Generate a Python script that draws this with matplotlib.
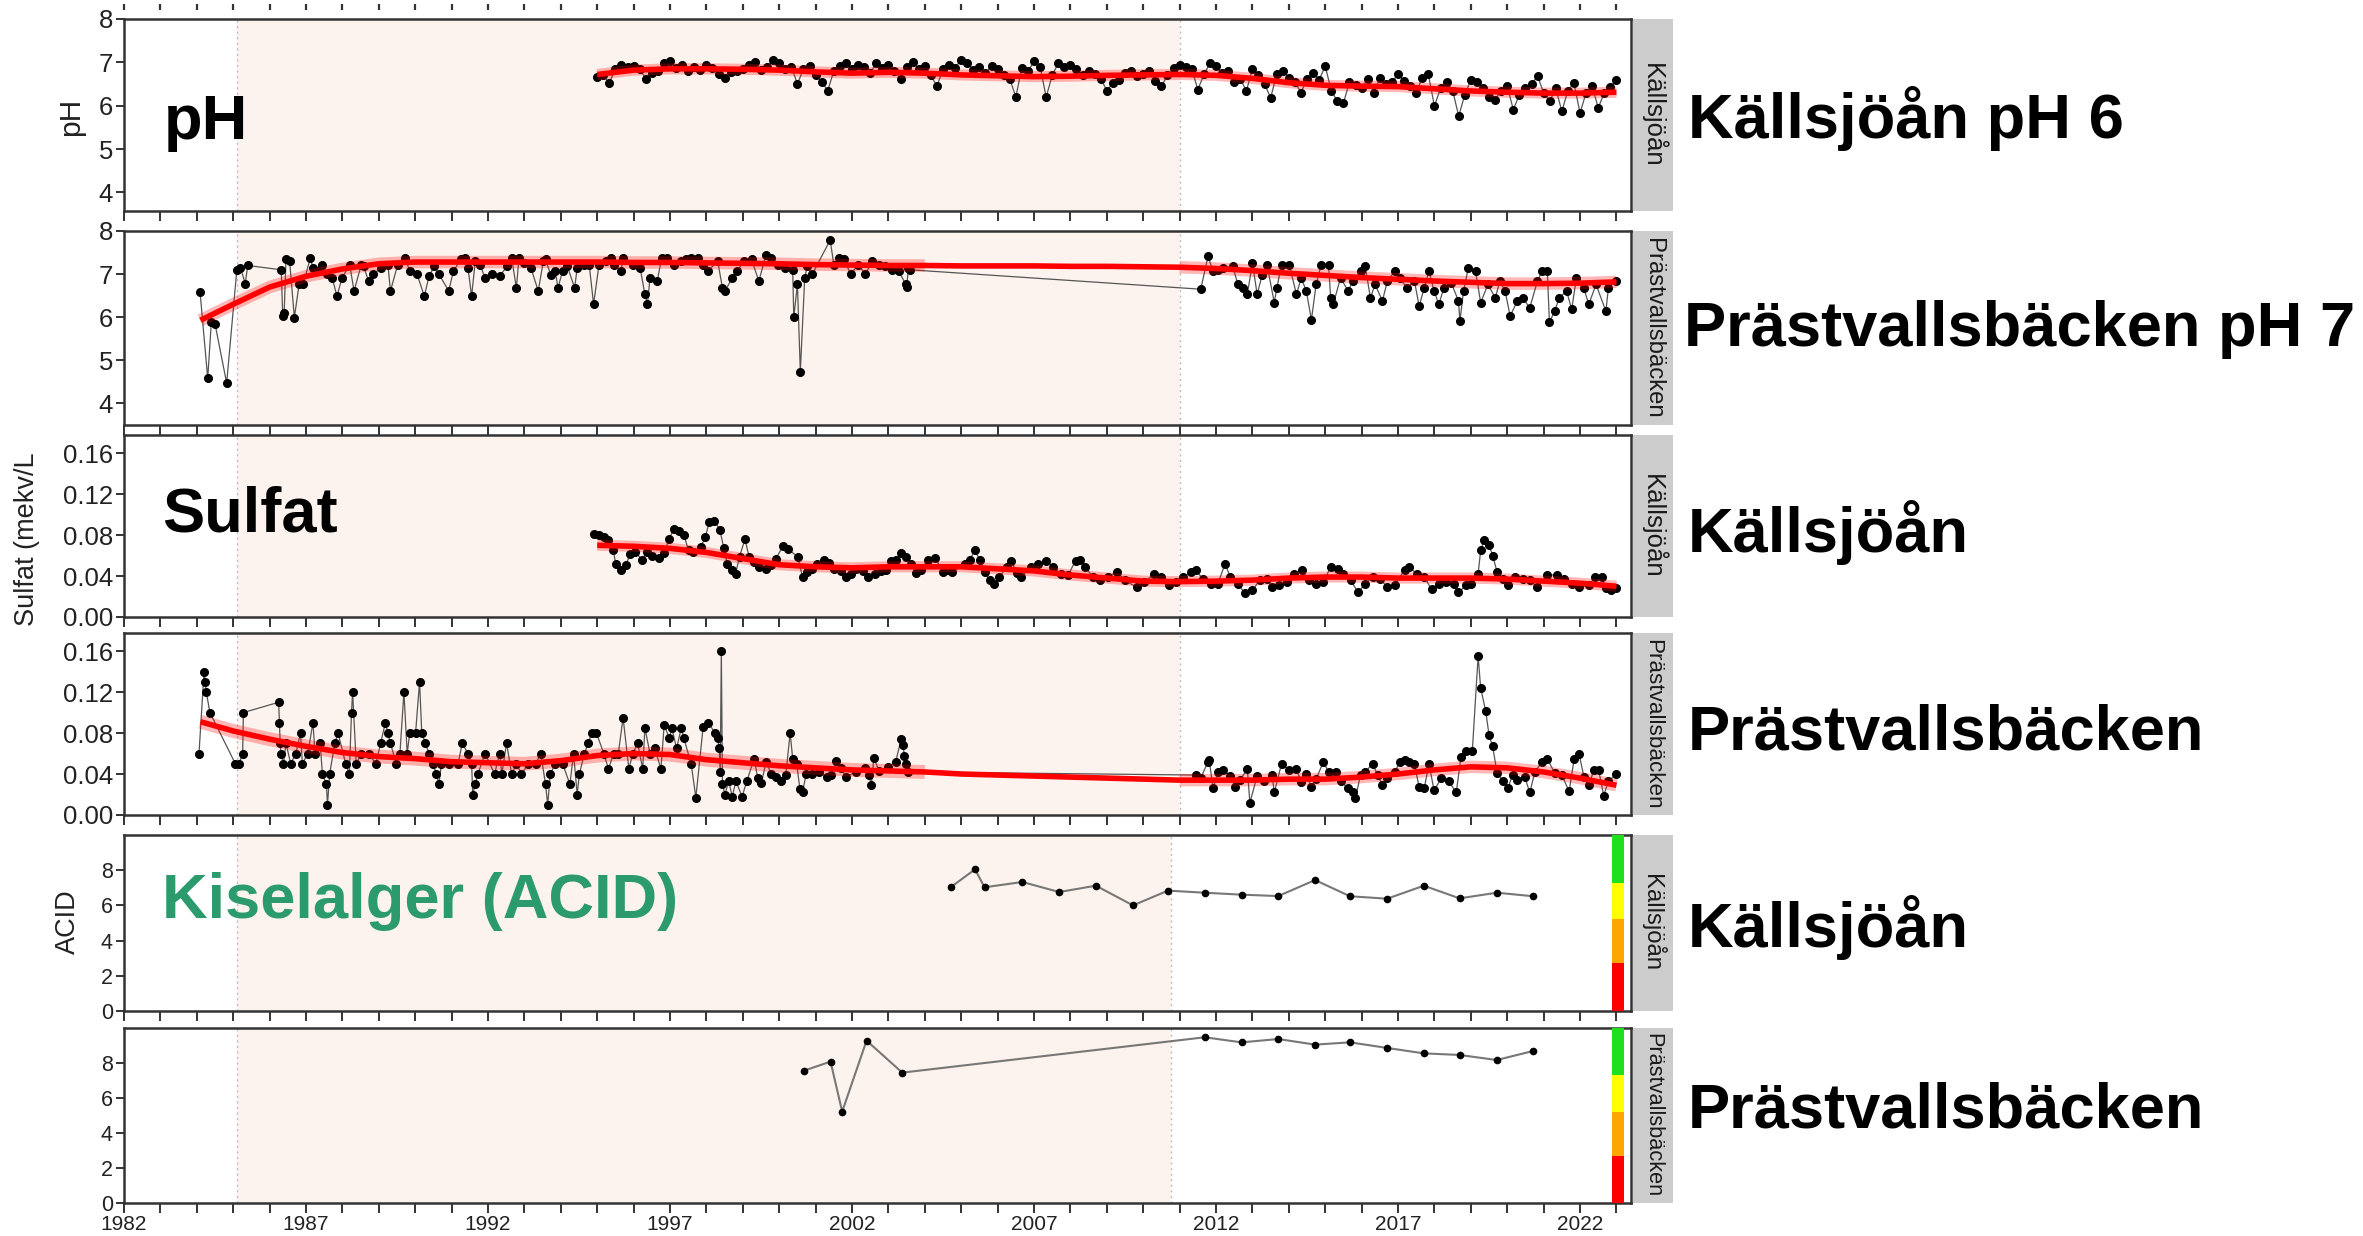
import numpy as np
import matplotlib
matplotlib.use("Agg")
import matplotlib.pyplot as plt
from matplotlib.ticker import FixedLocator, FuncFormatter

plt.rcParams['font.family'] = ['Liberation Sans', 'DejaVu Sans']

# ---------------- data ----------------
ref_start, ref_end_top, ref_end_bottom = 1985.1, 2011.0, 2010.75

# Panel 1: pH Källsjöån, sampled 6 times a year from 1995.0
ph_kall_start = 1995.0
ph_kall_per_year = 6
ph_kall = [
    6.66, 6.70, 6.52, 6.85, 6.95, 6.90,
    6.92, 6.85, 6.62, 6.75, 6.80, 6.98,
    7.02, 6.88, 6.95, 6.80, 6.90, 6.83,
    6.95, 6.88, 6.72, 6.65, 6.78, 6.80,
    6.85, 6.95, 7.00, 6.82, 6.90, 7.05,
    6.98, 6.85, 6.90, 6.50, 6.85, 6.92,
    6.70, 6.55, 6.35, 6.80, 6.92, 6.98,
    6.85, 6.95, 6.90, 6.75, 6.98, 6.88,
    6.95, 6.80, 6.62, 6.90, 7.00, 6.85,
    6.92, 6.70, 6.45, 6.85, 6.95, 6.88,
    7.06, 6.98, 6.82, 6.90, 6.75, 6.92,
    6.85, 6.70, 6.62, 6.20, 6.88, 6.80,
    7.02, 6.90, 6.20, 6.70, 6.98, 6.90,
    6.95, 6.85, 6.70, 6.80, 6.72, 6.62,
    6.35, 6.52, 6.60, 6.75, 6.80, 6.68,
    6.72, 6.80, 6.58, 6.45, 6.70, 6.88,
    6.94, 6.90, 6.85, 6.37, 6.72, 6.98,
    6.92, 6.75, 6.80, 6.55, 6.62, 6.34,
    6.85, 6.70, 6.50, 6.18, 6.72, 6.80,
    6.65, 6.55, 6.30, 6.62, 6.75, 6.60,
    6.91, 6.35, 6.10, 6.06, 6.55, 6.48,
    6.40, 6.62, 6.30, 6.64, 6.50, 6.55,
    6.72, 6.58, 6.45, 6.30, 6.65, 6.72,
    5.99, 6.40, 6.55, 6.35, 5.76, 6.25,
    6.60, 6.55, 6.40, 6.20, 6.14, 6.35,
    6.45, 5.91, 6.25, 6.40, 6.50, 6.68,
    6.30, 6.10, 6.40, 5.87, 6.35, 6.52,
    5.83, 6.30, 6.45, 5.95, 6.30, 6.42,
    6.60,
]
ph_kall_smooth_year = [1995, 1996, 1997, 1998, 1999, 2000, 2001, 2002, 2003, 2004, 2005, 2006, 2007,
                       2008, 2009, 2010, 2011, 2012, 2013, 2014, 2015, 2016, 2017, 2018, 2019, 2020,
                       2021, 2022, 2023]
ph_kall_smooth = [6.72, 6.82, 6.85, 6.85, 6.84, 6.82, 6.78, 6.75, 6.77, 6.75, 6.71, 6.69, 6.67,
                  6.68, 6.70, 6.71, 6.72, 6.70, 6.63, 6.53, 6.47, 6.45, 6.44, 6.39, 6.34, 6.31,
                  6.29, 6.29, 6.31]

# Panel 2: pH Prästvallsbäcken (two sampling periods)
ph_prast_year_a = [
    1984.09, 1984.30, 1984.40, 1984.50, 1984.82, 1985.10, 1985.20, 1985.33, 1985.40, 1986.32,
    1986.36, 1986.40, 1986.45, 1986.55, 1986.68, 1986.81, 1986.92, 1987.12, 1987.19, 1987.32,
    1987.45, 1987.59, 1987.72, 1987.85, 1987.99, 1988.20, 1988.32, 1988.52, 1988.58, 1988.72,
    1988.85, 1989.05, 1989.25, 1989.32, 1989.52, 1989.72, 1989.85, 1990.05, 1990.25, 1990.38,
    1990.52, 1990.65, 1990.92, 1991.05, 1991.25, 1991.38, 1991.45, 1991.55, 1991.65, 1991.78,
    1991.92, 1992.12, 1992.32, 1992.52, 1992.65, 1992.78, 1992.85, 1992.98, 1993.18, 1993.38,
    1993.52, 1993.58, 1993.72, 1993.85, 1993.92, 1994.05, 1994.18, 1994.38, 1994.45, 1994.65,
    1994.78, 1994.90, 1995.05, 1995.25, 1995.38, 1995.45, 1995.65, 1995.72, 1995.98, 1996.18,
    1996.31, 1996.38, 1996.45, 1996.65, 1996.77, 1996.91, 1997.11, 1997.31, 1997.44, 1997.58,
    1997.77, 1997.91, 1998.04, 1998.31, 1998.44, 1998.51, 1998.71, 1998.84, 1999.04, 1999.24,
    1999.44, 1999.64, 1999.77, 1999.97, 2000.17, 2000.37, 2000.40, 2000.50, 2000.58, 2000.70,
    2000.77, 2000.91, 2001.40, 2001.50, 2001.64, 2001.77, 2001.97, 2002.17, 2002.37, 2002.55,
    2002.74, 2002.90, 2003.10, 2003.28, 2003.48, 2003.50, 2003.55, 2003.60,
]
ph_prast_a = [
    6.58, 4.58, 5.89, 5.85, 4.47, 7.10, 7.15, 6.78, 7.20, 7.10,
    6.03, 6.10, 7.34, 7.30, 5.99, 6.76, 6.76, 7.38, 7.14, 7.07,
    7.22, 7.00, 6.91, 6.49, 6.91, 7.22, 6.61, 7.22, 7.18, 6.84,
    7.00, 7.14, 7.22, 6.61, 7.22, 7.38, 7.07, 7.00, 6.49, 6.95,
    7.18, 7.00, 6.61, 7.07, 7.34, 7.37, 7.14, 6.49, 7.30, 7.22,
    6.91, 7.00, 6.95, 7.18, 7.37, 6.68, 7.37, 7.26, 7.14, 6.61,
    7.30, 7.34, 6.99, 7.07, 6.68, 7.07, 7.18, 6.68, 7.14, 7.22,
    7.22, 6.30, 7.22, 7.30, 7.37, 7.22, 7.07, 7.38, 7.22, 7.14,
    6.53, 6.30, 6.91, 6.84, 7.38, 7.38, 7.22, 7.30, 7.34, 7.37,
    7.38, 7.22, 7.07, 7.30, 6.68, 6.61, 6.91, 7.07, 7.30, 7.34,
    6.84, 7.45, 7.37, 7.22, 7.14, 7.10, 6.00, 6.76, 4.74, 6.91,
    7.18, 7.00, 7.79, 7.22, 7.38, 7.34, 7.00, 7.22, 7.00, 7.30,
    7.22, 7.18, 7.10, 7.07, 6.76, 6.70, 7.14, 7.10,
]
ph_prast_year_b = [
    2011.58, 2011.78, 2011.92, 2012.05, 2012.19, 2012.46, 2012.60, 2012.73, 2012.86, 2013.00,
    2013.13, 2013.27, 2013.40, 2013.60, 2013.67, 2013.80, 2014.01, 2014.21, 2014.34, 2014.48,
    2014.62, 2014.75, 2014.89, 2015.09, 2015.15, 2015.22, 2015.42, 2015.63, 2015.76, 2015.97,
    2016.10, 2016.24, 2016.37, 2016.57, 2016.71, 2016.91, 2017.05, 2017.25, 2017.45, 2017.58,
    2017.72, 2017.85, 2017.99, 2018.12, 2018.26, 2018.46, 2018.66, 2018.70, 2018.80, 2018.93,
    2019.13, 2019.27, 2019.47, 2019.67, 2019.80, 2019.94, 2020.08, 2020.28, 2020.42, 2020.62,
    2020.83, 2020.96, 2021.10, 2021.16, 2021.30, 2021.43, 2021.63, 2021.77, 2021.90, 2022.10,
    2022.24, 2022.44, 2022.71, 2022.78, 2023.00,
]
ph_prast_b = [
    6.65, 7.41, 7.07, 7.10, 7.14, 7.18, 6.76, 6.68, 6.53, 7.26,
    6.53, 6.99, 7.22, 6.34, 6.68, 7.22, 7.22, 6.53, 6.91, 6.61,
    5.94, 6.76, 7.22, 7.22, 6.45, 6.30, 6.91, 6.61, 6.84, 7.07,
    7.18, 6.45, 6.76, 6.38, 6.84, 7.07, 6.91, 6.68, 6.84, 6.26,
    6.68, 7.07, 6.61, 6.30, 6.68, 6.80, 6.38, 5.91, 6.61, 7.14,
    7.07, 6.34, 6.76, 6.45, 6.84, 6.61, 6.03, 6.38, 6.45, 6.22,
    6.84, 7.07, 7.07, 5.88, 6.14, 6.45, 6.61, 6.18, 6.91, 6.68,
    6.30, 6.76, 6.14, 6.68, 6.84,
]
ph_prast_smooth_year = [1984.1, 1985, 1986, 1987, 1988, 1989, 1990, 1991, 1992, 1993, 1994, 1995,
                        1996, 1997, 1998, 1999, 2000, 2001, 2002, 2003, 2004, 2005, 2006, 2007,
                        2008, 2009, 2010, 2011, 2012, 2013, 2014, 2015, 2016, 2017, 2018, 2019,
                        2020, 2021, 2022, 2023]
ph_prast_smooth = [5.93, 6.30, 6.70, 6.95, 7.12, 7.24, 7.28, 7.28, 7.28, 7.28, 7.28, 7.28,
                   7.27, 7.27, 7.26, 7.25, 7.24, 7.22, 7.21, 7.20, 7.20, 7.19, 7.19, 7.19,
                   7.18, 7.18, 7.17, 7.16, 7.13, 7.08, 7.02, 6.97, 6.92, 6.88, 6.84, 6.81,
                   6.78, 6.78, 6.79, 6.82]

# Panel 3: Sulfat Källsjöån (mekv/L)
so4_kall_year = [
    1994.91, 1995.04, 1995.18, 1995.31, 1995.44, 1995.51, 1995.64, 1995.78, 1995.91, 1996.04,
    1996.24, 1996.38, 1996.51, 1996.71, 1996.84, 1996.97, 1997.11, 1997.24, 1997.38, 1997.51,
    1997.64, 1997.84, 1997.97, 1998.08, 1998.22, 1998.37, 1998.48, 1998.57, 1998.71, 1998.80,
    1998.91, 1999.06, 1999.17, 1999.31, 1999.44, 1999.64, 1999.77, 1999.91, 2000.10, 2000.24,
    2000.51, 2000.64, 2000.77, 2000.91, 2001.04, 2001.24, 2001.37, 2001.51, 2001.71, 2001.84,
    2001.97, 2002.11, 2002.31, 2002.44, 2002.64, 2002.80, 2002.94, 2003.08, 2003.21, 2003.35,
    2003.48, 2003.62, 2003.75, 2003.89, 2004.09, 2004.29, 2004.49, 2004.63, 2004.76, 2005.10,
    2005.24, 2005.37, 2005.51, 2005.64, 2005.78, 2005.91, 2006.05, 2006.25, 2006.38, 2006.52,
    2006.65, 2006.92, 2007.12, 2007.33, 2007.53, 2007.73, 2007.94, 2008.14, 2008.27, 2008.41,
    2008.61, 2008.81, 2009.02, 2009.28, 2009.49, 2009.82, 2010.03, 2010.30, 2010.50, 2010.70,
    2010.90, 2011.10, 2011.31, 2011.44, 2011.64, 2011.85, 2012.05, 2012.25, 2012.39, 2012.59,
    2012.80, 2013.00, 2013.20, 2013.40, 2013.54, 2013.74, 2013.94, 2014.14, 2014.35, 2014.55,
    2014.75, 2014.95, 2015.15, 2015.36, 2015.49, 2015.70, 2015.90, 2016.10, 2016.30, 2016.51,
    2016.71, 2016.91, 2017.18, 2017.31, 2017.51, 2017.72, 2017.92, 2018.12, 2018.33, 2018.53,
    2018.66, 2018.87, 2019.00, 2019.20, 2019.27, 2019.36, 2019.50, 2019.60, 2019.72, 2019.88,
    2020.01, 2020.22, 2020.42, 2020.62, 2020.82, 2021.10, 2021.37, 2021.57, 2021.77, 2021.97,
    2022.24, 2022.42, 2022.59, 2022.71, 2022.85, 2023.00,
]
so4_kall = [
    0.081, 0.080, 0.078, 0.075, 0.065, 0.052, 0.046, 0.051, 0.061, 0.063,
    0.056, 0.063, 0.060, 0.058, 0.062, 0.076, 0.086, 0.084, 0.080, 0.065,
    0.063, 0.068, 0.078, 0.093, 0.094, 0.085, 0.067, 0.052, 0.046, 0.042,
    0.059, 0.076, 0.059, 0.054, 0.049, 0.047, 0.051, 0.057, 0.069, 0.066,
    0.059, 0.039, 0.044, 0.047, 0.052, 0.056, 0.053, 0.047, 0.045, 0.039,
    0.042, 0.047, 0.045, 0.039, 0.042, 0.045, 0.046, 0.055, 0.056, 0.062,
    0.059, 0.052, 0.043, 0.046, 0.056, 0.058, 0.044, 0.046, 0.044, 0.052,
    0.056, 0.065, 0.056, 0.044, 0.036, 0.0325, 0.039, 0.049, 0.055, 0.043,
    0.039, 0.049, 0.052, 0.055, 0.049, 0.042, 0.041, 0.055, 0.056, 0.049,
    0.039, 0.036, 0.039, 0.044, 0.036, 0.029, 0.034, 0.042, 0.039, 0.031,
    0.034, 0.039, 0.044, 0.046, 0.037, 0.0325, 0.0325, 0.052, 0.039, 0.0325,
    0.023, 0.026, 0.036, 0.037, 0.029, 0.031, 0.034, 0.042, 0.046, 0.036,
    0.0325, 0.034, 0.049, 0.047, 0.042, 0.036, 0.024, 0.0325, 0.039, 0.037,
    0.029, 0.031, 0.046, 0.049, 0.042, 0.039, 0.027, 0.0325, 0.034, 0.0325,
    0.024, 0.031, 0.0325, 0.042, 0.065, 0.075, 0.070, 0.060, 0.044, 0.037,
    0.031, 0.039, 0.037, 0.036, 0.029, 0.041, 0.041, 0.037, 0.0325, 0.029,
    0.031, 0.039, 0.039, 0.028, 0.026, 0.028,
]
so4_kall_smooth_year = [1995, 1996, 1997, 1998, 1999, 2000, 2001, 2002, 2003, 2004, 2005, 2006, 2007,
                        2008, 2009, 2010, 2011, 2012, 2013, 2014, 2015, 2016, 2017, 2018, 2019, 2020,
                        2021, 2022, 2023]
so4_kall_smooth = [0.070, 0.069, 0.067, 0.063, 0.057, 0.051, 0.049, 0.048, 0.049, 0.049, 0.049,
                   0.047, 0.045, 0.041, 0.038, 0.035, 0.0345, 0.035, 0.036, 0.038, 0.039, 0.039,
                   0.038, 0.038, 0.038, 0.037, 0.035, 0.033, 0.030]

# Panel 4: Sulfat Prästvallsbäcken (two sampling periods)
so4_prast_year_a = [
    1984.06, 1984.20, 1984.23, 1984.26, 1984.36, 1985.06, 1985.16, 1985.26, 1985.28, 1986.25,
    1986.27, 1986.29, 1986.31, 1986.38, 1986.45, 1986.58, 1986.72, 1986.85, 1986.90, 1987.05,
    1987.19, 1987.25, 1987.39, 1987.45, 1987.56, 1987.59, 1987.65, 1987.79, 1987.88, 1988.09,
    1988.19, 1988.25, 1988.28, 1988.38, 1988.52, 1988.72, 1988.92, 1989.05, 1989.18, 1989.25,
    1989.32, 1989.48, 1989.58, 1989.69, 1989.78, 1989.85, 1990.01, 1990.12, 1990.18, 1990.28,
    1990.38, 1990.49, 1990.58, 1990.65, 1990.72, 1990.92, 1991.18, 1991.29, 1991.45, 1991.55,
    1991.58, 1991.65, 1991.72, 1991.92, 1992.18, 1992.32, 1992.38, 1992.51, 1992.65, 1992.78,
    1992.92, 1993.11, 1993.31, 1993.45, 1993.58, 1993.64, 1993.71, 1993.85, 1994.05, 1994.25,
    1994.35, 1994.45, 1994.51, 1994.65, 1994.75, 1994.85, 1994.98, 1995.18, 1995.31, 1995.45,
    1995.58, 1995.71, 1995.87, 1995.98, 1996.11, 1996.25, 1996.31, 1996.45, 1996.58, 1996.75,
    1996.84, 1996.98, 1997.05, 1997.18, 1997.31, 1997.38, 1997.58, 1997.71, 1997.91, 1998.05,
    1998.24, 1998.31, 1998.35, 1998.38, 1998.41, 1998.44, 1998.51, 1998.61, 1998.71, 1998.81,
    1998.98, 1999.11, 1999.31, 1999.41, 1999.51, 1999.64, 1999.78, 1999.91, 2000.04, 2000.18,
    2000.30, 2000.37, 2000.48, 2000.57, 2000.64, 2000.74, 2000.90, 2001.10, 2001.30, 2001.43,
    2001.57, 2001.70, 2001.83, 2002.10, 2002.37, 2002.47, 2002.53, 2002.60, 2002.74, 2003.00,
    2003.20, 2003.35, 2003.40, 2003.44, 2003.48, 2003.55,
]
so4_prast_a = [
    0.06, 0.14, 0.13, 0.12, 0.10, 0.05, 0.05, 0.06, 0.10, 0.11,
    0.09, 0.07, 0.06, 0.05, 0.07, 0.05, 0.06, 0.08, 0.05, 0.06,
    0.09, 0.06, 0.07, 0.04, 0.03, 0.01, 0.04, 0.07, 0.08, 0.05,
    0.04, 0.10, 0.12, 0.05, 0.06, 0.06, 0.05, 0.07, 0.09, 0.08,
    0.07, 0.05, 0.06, 0.12, 0.06, 0.08, 0.08, 0.13, 0.08, 0.07,
    0.06, 0.05, 0.04, 0.03, 0.05, 0.05, 0.05, 0.07, 0.06, 0.05,
    0.02, 0.03, 0.04, 0.06, 0.04, 0.06, 0.04, 0.07, 0.04, 0.05,
    0.04, 0.05, 0.05, 0.06, 0.03, 0.01, 0.04, 0.05, 0.05, 0.03,
    0.06, 0.02, 0.04, 0.06, 0.07, 0.08, 0.08, 0.06, 0.045, 0.06,
    0.06, 0.095, 0.045, 0.06, 0.07, 0.045, 0.085, 0.06, 0.065, 0.045,
    0.088, 0.075, 0.085, 0.065, 0.085, 0.075, 0.05, 0.017, 0.086, 0.09,
    0.08, 0.075, 0.065, 0.042, 0.16, 0.03, 0.02, 0.033, 0.018, 0.033,
    0.018, 0.033, 0.055, 0.036, 0.031, 0.052, 0.04, 0.037, 0.033, 0.039,
    0.08, 0.055, 0.05, 0.025, 0.022, 0.04, 0.04, 0.042, 0.037, 0.039,
    0.053, 0.046, 0.037, 0.042, 0.046, 0.039, 0.029, 0.056, 0.043, 0.047,
    0.052, 0.074, 0.068, 0.058, 0.05, 0.042,
]
so4_prast_year_b = [
    2011.44, 2011.58, 2011.78, 2011.81, 2011.92, 2012.05, 2012.19, 2012.39, 2012.53, 2012.66,
    2012.86, 2012.93, 2013.13, 2013.33, 2013.54, 2013.60, 2013.80, 2014.00, 2014.21, 2014.34,
    2014.48, 2014.62, 2014.75, 2014.95, 2015.09, 2015.29, 2015.42, 2015.63, 2015.76, 2015.83,
    2015.97, 2016.10, 2016.30, 2016.44, 2016.57, 2016.71, 2016.91, 2017.05, 2017.18, 2017.31,
    2017.45, 2017.58, 2017.72, 2017.85, 2017.99, 2018.19, 2018.39, 2018.60, 2018.73, 2018.87,
    2019.04, 2019.20, 2019.27, 2019.41, 2019.50, 2019.60, 2019.72, 2019.88, 2020.01, 2020.15,
    2020.28, 2020.48, 2020.62, 2020.76, 2020.96, 2021.10, 2021.30, 2021.50, 2021.70, 2021.84,
    2021.97, 2022.11, 2022.24, 2022.38, 2022.51, 2022.65, 2022.78, 2023.00,
]
so4_prast_b = [
    0.039, 0.036, 0.052, 0.054, 0.026, 0.042, 0.044, 0.038, 0.027, 0.034,
    0.045, 0.012, 0.038, 0.033, 0.039, 0.022, 0.050, 0.044, 0.045, 0.032,
    0.040, 0.027, 0.035, 0.052, 0.042, 0.042, 0.033, 0.026, 0.022, 0.017,
    0.039, 0.042, 0.050, 0.039, 0.029, 0.036, 0.042, 0.052, 0.054, 0.052,
    0.050, 0.027, 0.026, 0.050, 0.024, 0.036, 0.033, 0.022, 0.057, 0.062,
    0.062, 0.155, 0.124, 0.101, 0.078, 0.067, 0.041, 0.033, 0.026, 0.039,
    0.034, 0.037, 0.022, 0.042, 0.052, 0.055, 0.041, 0.039, 0.023, 0.055,
    0.060, 0.037, 0.029, 0.044, 0.044, 0.019, 0.033, 0.040,
]
so4_prast_smooth_year = [1984.1, 1985, 1986, 1987, 1988, 1989, 1990, 1991, 1992, 1993, 1994, 1995,
                         1996, 1997, 1998, 1999, 2000, 2001, 2002, 2003, 2004, 2005, 2006, 2007,
                         2008, 2009, 2010, 2011, 2012, 2013, 2014, 2015, 2016, 2017, 2018, 2019,
                         2020, 2021, 2022, 2023]
so4_prast_smooth = [0.091, 0.082, 0.074, 0.067, 0.061, 0.057, 0.055, 0.052, 0.051, 0.050, 0.053,
                    0.058, 0.060, 0.059, 0.054, 0.051, 0.048, 0.046, 0.044, 0.043, 0.042, 0.040,
                    0.039, 0.038, 0.037, 0.036, 0.035, 0.034, 0.034, 0.034, 0.035, 0.035, 0.037,
                    0.040, 0.044, 0.047, 0.046, 0.042, 0.036, 0.029]

# Panels 5-6: Kiselalger ACID index
acid_kall_year = [2004.71, 2005.38, 2005.64, 2006.68, 2007.69, 2008.70, 2009.72, 2010.68, 2011.69,
                  2012.70, 2013.71, 2014.72, 2015.68, 2016.70, 2017.71, 2018.69, 2019.71, 2020.72]
acid_kall = [7.03, 8.05, 7.03, 7.33, 6.76, 7.12, 6.00, 6.84, 6.72,
             6.61, 6.53, 7.44, 6.52, 6.38, 7.12, 6.40, 6.72, 6.52]
acid_prast_year = [2000.68, 2001.41, 2001.73, 2002.40, 2003.38, 2011.69, 2012.70, 2013.71,
                   2014.72, 2015.68, 2016.70, 2017.71, 2018.69, 2019.71, 2020.72]
acid_prast = [7.56, 8.08, 5.22, 9.28, 7.45, 9.47, 9.18, 9.37,
              9.05, 9.18, 8.86, 8.55, 8.46, 8.17, 8.69]
acid_class_bounds = [0.0, 2.7, 5.2, 7.3, 10.0]
acid_class_colors = ['#ff0000', '#ffa500', '#ffff00', '#1fe01f']

x_tick_years = list(range(1982, 2024))
x_label_years = list(range(1982, 2023, 5))

# ---------------- layout ----------------
W, H = 2363, 1236
fig = plt.figure(figsize=(W / 100, H / 100), dpi=100)


def fx(x):
    return x / W


def fy(y):
    return 1 - y / H


LEFT, RIGHT = 124, 1631
PINK = '#fdf3ee'
DOT = '#bdbdbd'
TXT = '#222222'


def make_axes(top, bottom):
    return fig.add_axes([fx(LEFT), fy(bottom), (RIGHT - LEFT) / W, (bottom - top) / H])


def style_axes(ax, ylim, yticks, yfmt, ysize, ref_end, labels=False):
    ax.set_xlim(1982.0, 2023.4)
    ax.set_ylim(*ylim)
    ax.axvspan(ref_start, ref_end, color=PINK, zorder=0, lw=0)
    for xv in (ref_start, ref_end):
        ax.axvline(xv, color=DOT, lw=1.0, ls=(0, (1.5, 2.5)), zorder=0.5)
    ax.xaxis.set_major_locator(FixedLocator(x_tick_years))
    if labels:
        ax.xaxis.set_major_formatter(FuncFormatter(
            lambda v, p: str(int(round(v))) if int(round(v)) in x_label_years else ''))
    else:
        ax.xaxis.set_major_formatter(FuncFormatter(lambda v, p: ''))
    ax.yaxis.set_major_locator(FixedLocator(yticks))
    ax.yaxis.set_major_formatter(FuncFormatter(lambda v, p: yfmt.format(v)))
    ax.tick_params(axis='x', direction='out', length=7, width=1.4, color='#333333',
                   labelsize=15, labelcolor=TXT, pad=2)
    ax.tick_params(axis='y', direction='out', length=6, width=1.4, color='#333333',
                   labelsize=ysize, labelcolor=TXT, pad=2)
    for s in ax.spines.values():
        s.set_linewidth(1.8)
        s.set_color('#333333')


def strip(top, bottom, label, size):
    sax = fig.add_axes([fx(1633), fy(bottom), 40 / W, (bottom - top) / H])
    sax.set_facecolor('#cccccc')
    sax.set_xticks([])
    sax.set_yticks([])
    for s in sax.spines.values():
        s.set_visible(False)
    sax.text(0.5, 0.5, label, rotation=270, ha='center', va='center', fontsize=size,
             color='#1a1a1a', transform=sax.transAxes, clip_on=True)


def series(ax, x, y):
    ax.plot(x, y, color='#555555', lw=0.9, zorder=2)
    ax.plot(x, y, ls='none', marker='o', ms=5.5, color='black', zorder=3)


def smooth(ax, x, y, bands):
    x = np.asarray(x, float)
    y = np.asarray(y, float)
    for lo, hi, w in bands:
        m = (x >= lo - 0.01) & (x <= hi + 0.01)
        ax.plot(x[m], y[m], color='red', lw=w, alpha=0.28, solid_capstyle='butt', zorder=4)
    ax.plot(x, y, color='red', lw=4, solid_capstyle='butt', zorder=5)


# Tick marks peeking in above the first panel (cut-off plot above)
axtop = fig.add_axes([fx(LEFT), fy(4), (RIGHT - LEFT) / W, 2 / H])
axtop.set_xlim(1982.0, 2023.4)
axtop.set_ylim(0, 1)
axtop.patch.set_visible(False)
for s in axtop.spines.values():
    s.set_visible(False)
axtop.set_yticks([])
axtop.xaxis.set_major_locator(FixedLocator(x_tick_years))
axtop.xaxis.set_major_formatter(FuncFormatter(lambda v, p: ''))
axtop.tick_params(axis='x', direction='out', length=4, width=1.6, color='#333333')

# Panel 1
ax1 = make_axes(19, 211)
style_axes(ax1, (3.57, 8.0), [4, 5, 6, 7, 8], '{:.0f}', 18.5, ref_end_top)
t1 = [ph_kall_start + i / ph_kall_per_year for i in range(len(ph_kall))]
series(ax1, t1, ph_kall)
smooth(ax1, ph_kall_smooth_year, ph_kall_smooth, [(1995, 2023, 8)])
fig.text(fx(71), fy(117), 'pH', rotation=90, ha='center', va='center', fontsize=21.5, color=TXT)
strip(19, 211, 'Källsjöån', 18.5)

# Panel 2
ax2 = make_axes(231, 425)
style_axes(ax2, (3.5, 8.0), [4, 5, 6, 7, 8], '{:.0f}', 18.5, ref_end_top)
series(ax2, ph_prast_year_a + ph_prast_year_b, ph_prast_a + ph_prast_b)
smooth(ax2, ph_prast_smooth_year, ph_prast_smooth, [(1984.1, 2004, 9), (2011, 2023, 9)])
strip(231, 425, 'Prästvallsbäcken', 17.2)

# Panel 3
ax3 = make_axes(435, 617)
style_axes(ax3, (0.0, 0.1776), [0, 0.04, 0.08, 0.12, 0.16], '{:.2f}', 18.5, ref_end_top)
series(ax3, so4_kall_year, so4_kall)
smooth(ax3, so4_kall_smooth_year, so4_kall_smooth, [(1995, 2023, 8)])
strip(435, 617, 'Källsjöån', 18.5)

# Panel 4
ax4 = make_axes(633, 815)
style_axes(ax4, (0.0, 0.1776), [0, 0.04, 0.08, 0.12, 0.16], '{:.2f}', 18.5, ref_end_top)
series(ax4, so4_prast_year_a + so4_prast_year_b, so4_prast_a + so4_prast_b)
smooth(ax4, so4_prast_smooth_year, so4_prast_smooth, [(1984.1, 2004, 10), (2011, 2023, 9)])
strip(633, 815, 'Prästvallsbäcken', 16.2)

fig.text(fx(27), fy(626), 'Sulfat (mekv/L', rotation=90, ha='center', va='bottom',
         fontsize=19.5, color=TXT)


def acid_panel(ax, x, y):
    ax.plot(x, y, color='#777777', lw=1.5, zorder=2)
    ax.plot(x, y, ls='none', marker='o', ms=4.5, color='black', zorder=3)
    for (lo, hi), c in zip(zip(acid_class_bounds[:-1], acid_class_bounds[1:]), acid_class_colors):
        ax.bar(2023.05, hi - lo, bottom=lo, width=0.33, color=c, lw=0, zorder=4)


# Panel 5
ax5 = make_axes(835, 1011)
style_axes(ax5, (0, 10), [0, 2, 4, 6, 8], '{:.0f}', 15.5, ref_end_bottom)
acid_panel(ax5, acid_kall_year, acid_kall)
fig.text(fx(68), fy(922), 'ACID', rotation=90, ha='center', va='center', fontsize=19.5, color=TXT)
strip(835, 1011, 'Källsjöån', 17.2)

# Panel 6
ax6 = make_axes(1028, 1203)
style_axes(ax6, (0, 10), [0, 2, 4, 6, 8], '{:.0f}', 15.5, ref_end_bottom, labels=True)
acid_panel(ax6, acid_prast_year, acid_prast)
strip(1028, 1203, 'Prästvallsbäcken', 15.7)

# Big annotation labels
big = dict(fontsize=45.5, fontweight='bold', va='baseline', ha='left')
fig.text(fx(164), fy(139), 'pH', color='black', **big)
fig.text(fx(162), fy(532), 'Sulfat', color='black', **big)
fig.text(fx(162), fy(918), 'Kiselalger (ACID)', color='#2b9a6d', **big)
fig.text(fx(1688), fy(138), 'Källsjöån pH 6', color='black', **big)
fig.text(fx(1684), fy(346), 'Prästvallsbäcken pH 7', color='black', **big)
fig.text(fx(1688), fy(552), 'Källsjöån', color='black', **big)
fig.text(fx(1688), fy(749), 'Prästvallsbäcken', color='black', **big)
fig.text(fx(1688), fy(947), 'Källsjöån', color='black', **big)
fig.text(fx(1688), fy(1127), 'Prästvallsbäcken', color='black', **big)

fig.savefig('out.png', dpi=100)
